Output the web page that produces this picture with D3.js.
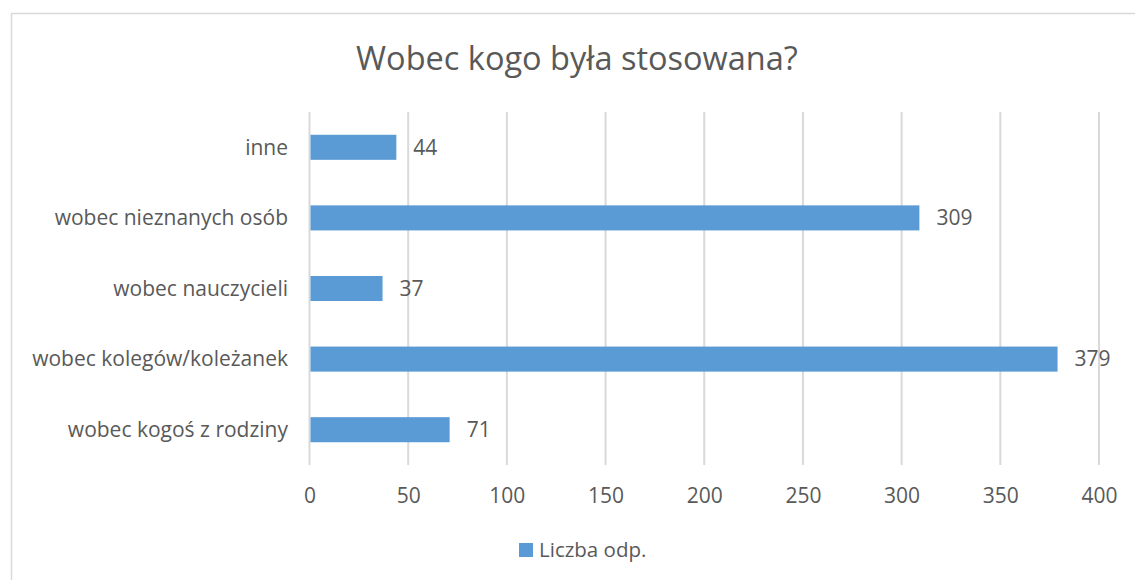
<!DOCTYPE html>
<meta charset="utf-8">
<head>
  <style>
    body { margin: 0; background: #fff; }
    text { font-family: "Open Sans", "Liberation Sans", sans-serif; fill: #595959; }
    .grid line { stroke: #d9d9d9; stroke-width: 2; }
  </style>
  <script src="https://cdn.jsdelivr.net/npm/d3@7"></script>
</head>
<body>
<script>
// data
var categories = ["inne", "wobec nieznanych osób", "wobec nauczycieli", "wobec kolegów/koleżanek", "wobec kogoś z rodziny"];
var values = [44, 309, 37, 379, 71];
var xTicks = [0, 50, 100, 150, 200, 250, 300, 350, 400];
var title = "Wobec kogo była stosowana?";
var seriesName = "Liczba odp.";

var width = 1135, height = 580;
var barColor = "#5b9bd5";
var fs = "21px";

var svg = d3.select("body").append("svg")
    .attr("width", width)
    .attr("height", height);

// outer chart border
svg.append("rect")
    .attr("x", 11.5).attr("y", 13.5)
    .attr("width", 1135).attr("height", 580)
    .attr("fill", "none")
    .attr("stroke", "#d9d9d9")
    .attr("stroke-width", 1.5);

var x = d3.scaleLinear().domain([0, 400]).range([309.5, 1099]);
var y = d3.scaleBand().domain(categories).range([112, 465]).paddingInner(0.645).paddingOuter(0.3225);

svg.append("text")
    .attr("x", 577).attr("y", 70)
    .attr("text-anchor", "middle")
    .style("font-size", "32.5px")
    .text(title);

// vertical gridlines
svg.append("g")
    .attr("class", "grid")
  .selectAll("line")
  .data(xTicks)
  .enter().append("line")
    .attr("x1", function(d) { return x(d); })
    .attr("x2", function(d) { return x(d); })
    .attr("y1", 112)
    .attr("y2", 465);

// bars
svg.append("g")
  .selectAll("rect")
  .data(values)
  .enter().append("rect")
    .attr("x", x(0) + 1)
    .attr("y", function(d, i) { return y(categories[i]); })
    .attr("width", function(d) { return x(d) - x(0) - 1; })
    .attr("height", y.bandwidth())
    .attr("fill", barColor);

// value labels
svg.append("g")
  .selectAll("text")
  .data(values)
  .enter().append("text")
    .attr("x", function(d) { return x(d) + 17; })
    .attr("y", function(d, i) { return y(categories[i]) + y.bandwidth() / 2; })
    .attr("dy", "0.35em")
    .style("font-size", fs)
    .text(function(d) { return d; });

// category axis labels
svg.append("g")
  .selectAll("text")
  .data(categories)
  .enter().append("text")
    .attr("x", 288)
    .attr("y", function(d) { return y(d) + y.bandwidth() / 2; })
    .attr("dy", "0.35em")
    .attr("text-anchor", "end")
    .style("font-size", fs)
    .text(function(d) { return d; });

// x axis tick labels
var xAxis = svg.append("g")
    .attr("transform", "translate(0,465)")
    .call(d3.axisBottom(x).tickValues(xTicks).tickSize(0).tickPadding(23));
xAxis.select(".domain").remove();
xAxis.selectAll("text")
    .style("font-size", fs)
    .style("font-family", "'Open Sans', 'Liberation Sans', sans-serif")
    .attr("fill", "#595959");

// legend
var legend = svg.append("g");
legend.append("rect")
    .attr("x", 519).attr("y", 543)
    .attr("width", 14).attr("height", 14)
    .attr("fill", barColor);
legend.append("text")
    .attr("x", 539).attr("y", 557)
    .style("font-size", "20.5px")
    .text(seriesName);
</script>
</body>
